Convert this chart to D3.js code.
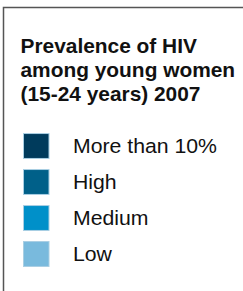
<!DOCTYPE html>
<html>
<head>
<meta charset="utf-8">
<script src="https://cdn.jsdelivr.net/npm/d3@7"></script>
<style>
  html, body { margin: 0; padding: 0; background: #fff; }
  svg { display: block; }
</style>
</head>
<body>
<div id="chart"></div>
<script>
const titleLines = ['Prevalence of HIV', 'among young women', '(15-24 years) 2007'];
const categories = ['More than 10%', 'High', 'Medium', 'Low'];
const colours = ['#003b5c', '#006089', '#0090c9', '#79badd'];

const width = 243, height = 291;

const svg = d3.select('#chart').append('svg')
    .attr('width', width)
    .attr('height', height);

// frame, open on the right and bottom
svg.append('rect')
    .attr('x', 3.5)
    .attr('y', 7.5)
    .attr('width', 260)
    .attr('height', 300)
    .attr('fill', 'none')
    .attr('stroke', '#555')
    .attr('stroke-width', 1.5);

// the original type is a touch wider than Liberation, so stretch it a little
const title = svg.append('text')
    .attr('transform', 'translate(20.5,0) scale(1.045,1)')
    .attr('font-family', 'Liberation Sans, Arial, sans-serif')
    .attr('font-weight', 'bold')
    .attr('font-size', 20)
    .attr('fill', '#111');
title.selectAll('tspan')
    .data(titleLines)
    .enter()
    .append('tspan')
    .attr('x', 0)
    .attr('y', (d, i) => 53 + i * 24)
    .text(d => d);

const y = d3.scaleBand()
    .domain(categories)
    .range([128, 272])
    .paddingInner(0.28)
    .paddingOuter(0.14);

const color = d3.scaleOrdinal()
    .domain(categories)
    .range(colours);

const rows = svg.append('g')
    .attr('class', 'legend')
    .selectAll('g')
    .data(categories)
    .enter()
    .append('g')
    .attr('transform', d => 'translate(0,' + y(d) + ')');

rows.append('rect')
    .attr('x', 23.5)
    .attr('y', 0.5)
    .attr('width', 25.5)
    .attr('height', y.bandwidth() - 1)
    .attr('fill', d => color(d))
    .attr('stroke', '#a9cfe3')
    .attr('stroke-width', 1);

rows.append('text')
    .attr('transform', 'translate(73,' + (y.bandwidth() / 2 + 6.5) + ') scale(1.09,1)')
    .attr('font-family', 'Liberation Sans, Arial, sans-serif')
    .attr('font-size', 19.5)
    .attr('fill', '#111')
    .text(d => d);
</script>
</body>
</html>
